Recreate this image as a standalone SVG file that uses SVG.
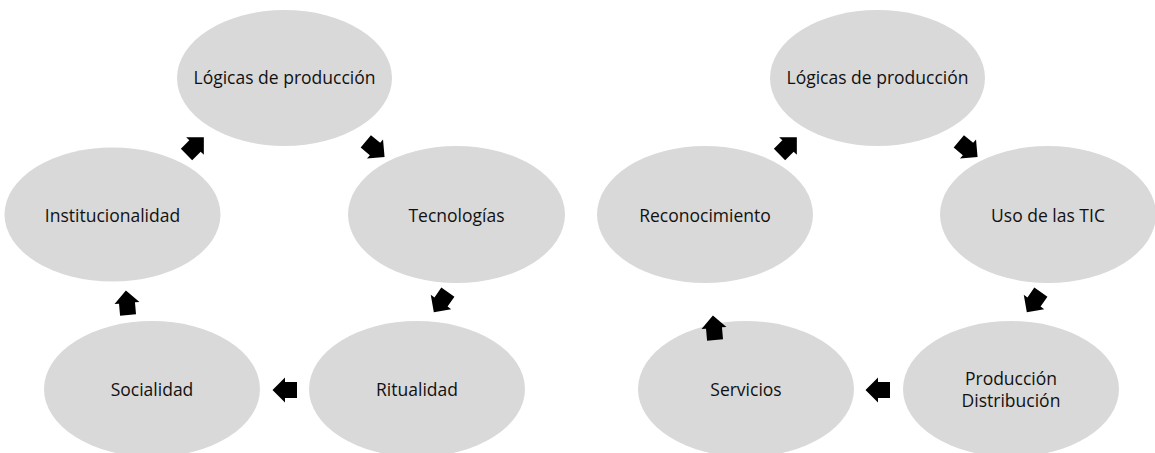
<svg xmlns="http://www.w3.org/2000/svg" xmlns:xlink="http://www.w3.org/1999/xlink" width="1155" height="453" viewBox="0 0 1155 453">
<style>
.node ellipse{fill:#d9d9d9;stroke:none}
.node text{font-family:"Open Sans","Noto Sans","Liberation Sans",sans-serif;font-size:17.5px;fill:#111;text-anchor:middle}
.arr{fill:#000}
</style>
<defs>
<polygon id="ar" class="arr" points="12.5,0 0,-12.5 0,-8 -12,-8 -12,8 0,8 0,12.5"/>
</defs>
<rect width="1155" height="453" fill="#fff"/>
<g id="L-logicas" class="node"><ellipse cx="284.5" cy="78" rx="107.5" ry="68"/><text x="284.5" y="84">Lógicas de producción</text></g>
<g id="L-tecnologias" class="node"><ellipse cx="456.5" cy="214.5" rx="108.5" ry="68.5"/><text x="456.5" y="222">Tecnologías</text></g>
<g id="L-ritualidad" class="node"><ellipse cx="417" cy="389" rx="108" ry="68"/><text x="417" y="396">Ritualidad</text></g>
<g id="L-socialidad" class="node"><ellipse cx="152" cy="389" rx="108" ry="68"/><text x="152" y="396">Socialidad</text></g>
<g id="L-institucionalidad" class="node"><ellipse cx="112.5" cy="214.5" rx="108" ry="67"/><text x="112.5" y="222">Institucionalidad</text></g>
<g id="R-logicas" class="node"><ellipse cx="877.5" cy="78" rx="107.5" ry="68"/><text x="877.5" y="84">Lógicas de producción</text></g>
<g id="R-uso" class="node"><ellipse cx="1048" cy="214.5" rx="108" ry="68.5"/><text x="1048" y="222">Uso de las TIC</text></g>
<g id="R-produccion" class="node"><ellipse cx="1011" cy="389" rx="108" ry="68"/><text x="1011" y="385">Producción</text><text x="1011" y="407">Distribución</text></g>
<g id="R-servicios" class="node"><ellipse cx="746" cy="389" rx="108" ry="68"/><text x="746" y="396">Servicios</text></g>
<g id="R-reconocimiento" class="node"><ellipse cx="705" cy="214.5" rx="108" ry="68.5"/><text x="705" y="222">Reconocimiento</text></g>
<g id="connectors">
<use xlink:href="#ar" href="#ar" transform="translate(195,146) rotate(-45)"/>
<use xlink:href="#ar" href="#ar" transform="translate(375,149) rotate(40)"/>
<use xlink:href="#ar" href="#ar" transform="translate(441,302) rotate(125)"/>
<use xlink:href="#ar" href="#ar" transform="translate(285,390) rotate(180)"/>
<use xlink:href="#ar" href="#ar" transform="translate(127,303) rotate(-95)"/>
<use xlink:href="#ar" href="#ar" transform="translate(788,146) rotate(-45)"/>
<use xlink:href="#ar" href="#ar" transform="translate(968,149) rotate(40)"/>
<use xlink:href="#ar" href="#ar" transform="translate(1034,302) rotate(125)"/>
<use xlink:href="#ar" href="#ar" transform="translate(878,390) rotate(180)"/>
<use xlink:href="#ar" href="#ar" transform="translate(714,328) rotate(-95)"/>
</g>
</svg>
